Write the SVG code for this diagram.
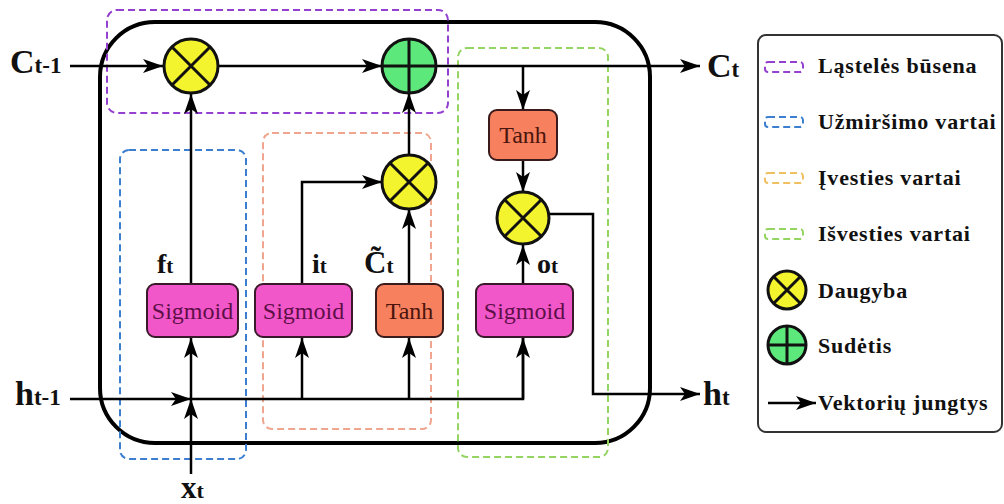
<svg xmlns="http://www.w3.org/2000/svg" width="1004" height="504" viewBox="0 0 1004 504">
<style>
.lbl{font-family:"Liberation Serif",serif;font-weight:bold;fill:#111}
.box text{font-family:"Liberation Serif",serif;font-size:24px;text-anchor:middle}
.sig{fill:#f257c9;stroke:#3a1a2a;stroke-width:2}
.tanh{fill:#f7805f;stroke:#3a1a1a;stroke-width:2}
.mul{fill:#f3f32e;stroke:#111;stroke-width:3}
.add{fill:#5de87c;stroke:#111;stroke-width:3}
.cross{stroke:#111;stroke-width:3;fill:none}
.conn{stroke:#000;stroke-width:2.5;fill:none}
.dash{fill:none;stroke-width:2;stroke-dasharray:7 4}
.leg{font-family:"Liberation Serif",serif;font-weight:bold;font-size:22px;letter-spacing:0.8px;fill:#111}
</style>
<defs>
<marker id="ah" markerUnits="userSpaceOnUse" markerWidth="22" markerHeight="16" viewBox="-1 -8 22 16" refX="20" refY="0" orient="auto">
<path d="M0,-7 L20,0 L0,7 L5,0 Z" fill="#000"/>
</marker>
</defs>
<rect width="1004" height="504" fill="#fff"/>

<!-- main cell -->
<rect id="cell" x="100" y="22" width="550" height="421" rx="55" fill="none" stroke="#000" stroke-width="4"/>

<!-- dashed regions -->
<g id="regions">
<rect x="107" y="10" width="341" height="103" rx="10" class="dash" stroke="#9440d0"/>
<rect x="120" y="150" width="126" height="309" rx="9" class="dash" stroke="#3c7fd0"/>
<rect x="263" y="133" width="168" height="296" rx="9" class="dash" stroke="#f0a68e"/>
<rect x="458" y="48" width="150" height="409" rx="9" class="dash" stroke="#94d460"/>
</g>

<!-- connectors -->
<g id="connectors">
<line x1="70" y1="66" x2="163" y2="66" class="conn" marker-end="url(#ah)"/>
<line x1="219" y1="66" x2="382" y2="66" class="conn" marker-end="url(#ah)"/>
<line x1="436" y1="66" x2="700" y2="66" class="conn" marker-end="url(#ah)"/>
<line x1="523" y1="66" x2="523" y2="110" class="conn" marker-end="url(#ah)"/>
<line x1="523" y1="160" x2="523" y2="192" class="conn" marker-end="url(#ah)"/>
<line x1="523" y1="284" x2="523" y2="245" class="conn" marker-end="url(#ah)"/>
<polyline points="549,214 593,214 593,394 700,394" class="conn" marker-end="url(#ah)"/>
<line x1="70" y1="399" x2="191" y2="399" class="conn" marker-end="url(#ah)"/>
<polyline points="191,399 523,399 523,337" class="conn"/>
<line x1="523" y1="399" x2="523" y2="338" class="conn" marker-end="url(#ah)"/>
<line x1="191" y1="474" x2="191" y2="399" class="conn" marker-end="url(#ah)"/>
<line x1="191" y1="399" x2="191" y2="338" class="conn" marker-end="url(#ah)"/>
<line x1="302" y1="399" x2="302" y2="338" class="conn" marker-end="url(#ah)"/>
<line x1="409" y1="399" x2="409" y2="338" class="conn" marker-end="url(#ah)"/>
<line x1="191" y1="284" x2="191" y2="94" class="conn" marker-end="url(#ah)"/>
<polyline points="302,284 302,182 382,182" class="conn" marker-end="url(#ah)"/>
<line x1="409" y1="284" x2="409" y2="209" class="conn" marker-end="url(#ah)"/>
<line x1="409" y1="155" x2="409" y2="93" class="conn" marker-end="url(#ah)"/>
</g>

<!-- operators -->
<g id="mul_forget"><circle cx="191" cy="66" r="27" class="mul"/><path d="M172,47 L210,85 M210,47 L172,85" class="cross"/></g>
<g id="add_cell"><circle cx="409" cy="66" r="27" class="add"/><path d="M409,39 V93 M382,66 H436" class="cross"/></g>
<g id="mul_input"><circle cx="409" cy="182" r="27" class="mul"/><path d="M390,163 L428,201 M428,163 L390,201" class="cross"/></g>
<g id="mul_output"><circle cx="523" cy="218" r="26" class="mul"/><path d="M505,200 L541,236 M541,200 L505,236" class="cross"/></g>

<!-- activation boxes -->
<g id="sig_f" class="box"><rect x="147" y="284" width="91" height="53" rx="8" class="sig"/><text x="192.5" y="319" fill="#5e0f48">Sigmoid</text></g>
<g id="sig_i" class="box"><rect x="255" y="284" width="97" height="53" rx="8" class="sig"/><text x="303.5" y="319" fill="#5e0f48">Sigmoid</text></g>
<g id="tanh_c" class="box"><rect x="376" y="284" width="67" height="53" rx="8" class="tanh"/><text x="409.5" y="319" fill="#4a150c">Tanh</text></g>
<g id="sig_o" class="box"><rect x="476" y="284" width="97" height="53" rx="8" class="sig"/><text x="524.5" y="319" fill="#5e0f48">Sigmoid</text></g>
<g id="tanh_h" class="box"><rect x="489" y="110" width="68" height="50" rx="8" class="tanh"/><text x="523" y="143" fill="#4a150c">Tanh</text></g>

<!-- labels -->
<g id="labels">
<text class="lbl" x="10" y="73" font-size="34">C<tspan font-size="23">t-1</tspan></text>
<text class="lbl" x="707" y="77" font-size="34">C<tspan font-size="23">t</tspan></text>
<text class="lbl" x="15" y="405" font-size="34">h<tspan font-size="23">t-1</tspan></text>
<text class="lbl" x="703" y="405" font-size="34">h<tspan font-size="23">t</tspan></text>
<text class="lbl" x="181" y="498" font-size="31">x<tspan font-size="22">t</tspan></text>
<text class="lbl" x="157" y="273" font-size="28">f<tspan font-size="21">t</tspan></text>
<text class="lbl" x="312" y="273" font-size="28">i<tspan font-size="21">t</tspan></text>
<text class="lbl" x="364" y="273" font-size="31">C&#x0303;<tspan font-size="21">t</tspan></text>
<text class="lbl" x="537" y="273" font-size="28">o<tspan font-size="21">t</tspan></text>
</g>

<!-- legend -->
<g id="legend">
<rect x="758" y="35" width="244" height="397" rx="8" fill="#fff" stroke="#333" stroke-width="2"/>
<rect x="765" y="62" width="38" height="10" rx="3" class="dash" stroke="#9440d0" stroke-dasharray="6 3"/>
<text class="leg" x="818" y="73">Ląstelės būsena</text>
<rect x="765" y="117" width="38" height="10" rx="3" class="dash" stroke="#3c7fd0" stroke-dasharray="6 3"/>
<text class="leg" x="818" y="129">Užmiršimo vartai</text>
<rect x="765" y="173" width="38" height="10" rx="3" class="dash" stroke="#f0c060" stroke-dasharray="6 3"/>
<text class="leg" x="818" y="185">Įvesties vartai</text>
<rect x="765" y="229" width="38" height="10" rx="3" class="dash" stroke="#94d460" stroke-dasharray="6 3"/>
<text class="leg" x="818" y="241">Išvesties vartai</text>
<circle cx="787" cy="290" r="19" class="mul" stroke-width="2.5"/>
<path d="M774,277 L800,303 M800,277 L774,303" class="cross" stroke-width="2.5"/>
<text class="leg" x="818" y="298">Daugyba</text>
<circle cx="787" cy="345" r="19" class="add" stroke-width="2.5"/>
<path d="M787,326 V364 M768,345 H806" class="cross" stroke-width="2.5"/>
<text class="leg" x="818" y="353">Sudėtis</text>
<line x1="768" y1="403" x2="816" y2="403" class="conn" marker-end="url(#ah)"/>
<text class="leg" x="818" y="410">Vektorių jungtys</text>
</g>
</svg>
